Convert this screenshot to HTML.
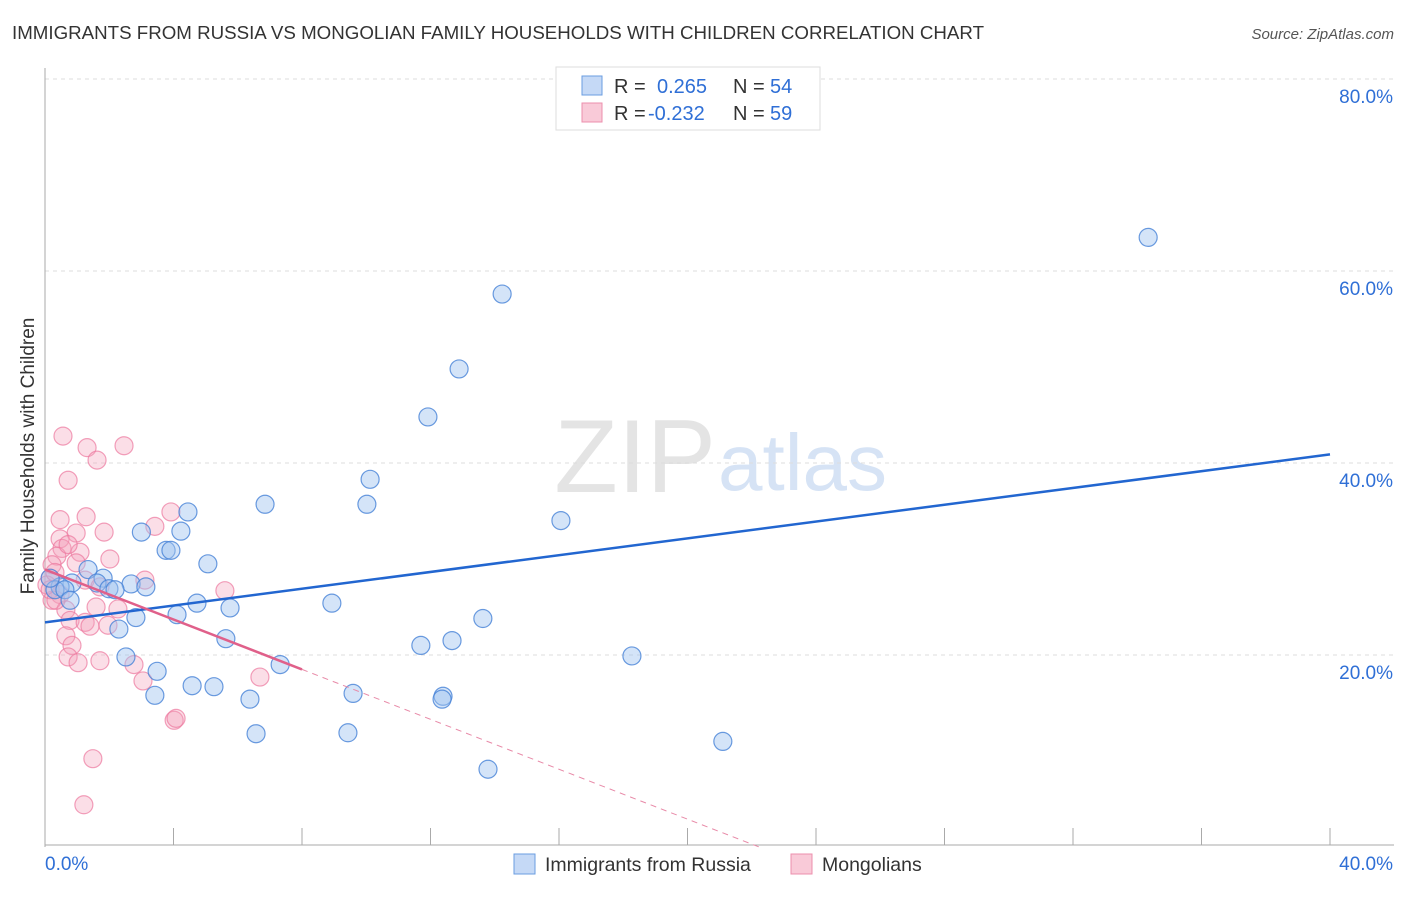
<!DOCTYPE html>
<html><head><meta charset="utf-8"><style>
body{margin:0;background:#fff;font-family:"Liberation Sans",sans-serif}
svg text{font-family:"Liberation Sans",sans-serif}
</style></head><body>
<svg id="chart" width="1406" height="892">
<text x="12" y="39" font-size="18" fill="#333" textLength="972" lengthAdjust="spacingAndGlyphs">IMMIGRANTS FROM RUSSIA VS MONGOLIAN FAMILY HOUSEHOLDS WITH CHILDREN CORRELATION CHART</text>
<text x="1394" y="39" font-size="15" fill="#555" font-style="italic" text-anchor="end">Source: ZipAtlas.com</text>
<text x="716" y="492" font-size="104" fill="#e4e4e4" font-family="Liberation Serif" text-anchor="end">ZIP</text>
<text x="718" y="490" font-size="80" fill="#d6e3f5">atlas</text>
<g id="grid"></g>
<g id="axes"></g>
<g id="marks"></g>
<text transform="translate(34,456) rotate(-90)" font-size="19" fill="#333" text-anchor="middle">Family Households with Children</text>
<g>
<rect x="556" y="67" width="264" height="63" fill="#fff" stroke="#ddd"/>
<rect x="582" y="76" width="20" height="19" fill="#c5d9f6" stroke="#6a9de0"/>
<rect x="582" y="103" width="20" height="19" fill="#f9cad8" stroke="#ec8fad"/>
<text x="614" y="93" font-size="20" fill="#333">R =</text><text x="657" y="93" font-size="20" fill="#2f6fd6">0.265</text>
<text x="733" y="93" font-size="20" fill="#333">N =</text><text x="770" y="93" font-size="20" fill="#2f6fd6">54</text>
<text x="614" y="120" font-size="20" fill="#333">R =</text><text x="648" y="120" font-size="20" fill="#2f6fd6">-0.232</text>
<text x="733" y="120" font-size="20" fill="#333">N =</text><text x="770" y="120" font-size="20" fill="#2f6fd6">59</text>
</g>
<g>
<rect x="514" y="854" width="21" height="20" fill="#c5d9f6" stroke="#6a9de0"/>
<text x="545" y="871" font-size="19.5" fill="#333">Immigrants from Russia</text>
<rect x="791" y="854" width="21" height="20" fill="#f9cad8" stroke="#ec8fad"/>
<text x="822" y="871" font-size="19.5" fill="#333">Mongolians</text>
</g>
</svg>
<script>
const yTicks=[20,40,60,80];
const yTickLabels=["20.0%","40.0%","60.0%","80.0%"];
const xTicks=[0,4,8,12,16,20,24,28,32,36,40];
const russiaX=[34.34,14.23,12.89,11.92,10.12,10.02,6.85,16.06,4.45,3.0,4.23,3.77,3.92,5.07,2.68,3.14,1.81,1.34,1.62,1.99,2.18,0.84,0.47,0.31,0.62,0.78,0.16,2.83,4.11,4.73,5.76,8.93,2.30,5.63,13.63,12.67,11.70,18.27,2.52,3.49,7.32,3.42,4.58,5.26,6.38,9.59,12.39,12.36,6.57,9.43,21.1,13.79];
const russiaY=[63.5,57.6,49.8,44.8,38.3,35.7,35.7,34.0,34.9,32.8,32.9,30.9,30.9,29.5,27.4,27.1,28.0,28.9,27.5,26.9,26.8,27.5,27.1,26.8,26.8,25.7,28.0,23.9,24.2,25.4,24.9,25.4,22.7,21.7,23.8,21.5,21.0,19.9,19.8,18.3,19.0,15.8,16.8,16.7,15.4,16.0,15.7,15.4,11.8,11.9,11.0,8.1];
const mongolX=[0.56,1.31,2.46,1.62,0.72,0.47,1.28,1.84,0.97,3.42,3.92,0.47,0.53,1.09,0.37,0.72,2.02,0.97,0.22,3.11,5.60,0.16,0.06,0.31,1.25,1.71,0.47,0.22,0.65,1.59,2.27,0.78,1.25,1.40,1.96,0.65,0.84,0.72,1.71,1.03,2.77,3.05,6.69,4.02,4.08,1.49,1.21,0.16,0.34];
const mongolY=[42.8,41.6,41.8,40.3,38.2,34.1,34.4,32.8,32.7,33.4,34.9,32.1,31.1,30.7,30.3,31.5,30.0,29.6,29.4,27.8,26.7,28.0,27.3,28.6,27.8,27.1,26.3,25.7,24.7,25.0,24.8,23.6,23.4,23.0,23.1,22.0,21.0,19.8,19.4,19.2,19.0,17.3,17.7,13.2,13.4,9.2,4.4,26.8,25.7];
const russiaTrend=[23.4,40.9];
const mongolTrend=[28.9,-1.3];
const mongolSolidEnd=8.0;

const NS="http://www.w3.org/2000/svg";
const X=v=>45+v/40*1285;
const Y=v=>847-v/80*768;
function mk(tag,attrs,parent){const e=document.createElementNS(NS,tag);for(const k in attrs)e.setAttribute(k,attrs[k]);document.getElementById(parent).appendChild(e);return e;}

yTicks.forEach((t,i)=>{
 const g=mk('line',{x1:45,x2:1394,y1:Y(t),y2:Y(t),stroke:'#ddd','stroke-dasharray':'4,4'},'grid');
 
 
 const l=mk('text',{x:1393,y:Y(t)+24,'font-size':19,fill:'#2f6fd6','text-anchor':'end'},'grid');
 l.textContent=yTickLabels[i];
 
 
});
const ya=mk('line',{x1:45,x2:45,y1:68,y2:847,stroke:'#aaa'},'axes');


const xa=mk('line',{x1:45,x2:1394,y1:845,y2:845,stroke:'#aaa'},'axes');


xTicks.forEach(t=>{
 const k=mk('line',{x1:X(t),x2:X(t),y1:828,y2:845,stroke:'#aaa'},'axes');
 
 
});
const xl0=mk('text',{x:45,y:870,'font-size':19,fill:'#2f6fd6'},'axes');xl0.textContent='0.0%';


const xl1=mk('text',{x:1393,y:870,'font-size':19,fill:'#2f6fd6','text-anchor':'end'},'axes');xl1.textContent='40.0%';



mongolX.forEach((v,i)=>{
 const c=mk('circle',{cx:X(v),cy:Y(mongolY[i]),r:9,fill:'rgba(244,160,186,0.35)',stroke:'rgba(236,120,158,0.7)','stroke-width':1.2},'marks');
 
 
});
russiaX.forEach((v,i)=>{
 const c=mk('circle',{cx:X(v),cy:Y(russiaY[i]),r:9,fill:'rgba(160,196,240,0.45)',stroke:'rgba(70,130,215,0.8)','stroke-width':1.2},'marks');
 
 
});
const rt=mk('line',{x1:X(0),y1:Y(russiaTrend[0]),x2:X(40),y2:Y(russiaTrend[1]),stroke:'#2266d0','stroke-width':2.5},'marks');


const xz=-mongolTrend[0]/mongolTrend[1];
const mt=mk('line',{x1:X(0),y1:Y(mongolTrend[0]),x2:X(mongolSolidEnd),y2:Y(mongolTrend[0]+mongolTrend[1]*mongolSolidEnd),stroke:'#e0608a','stroke-width':2.5},'marks');


const md=mk('line',{x1:X(mongolSolidEnd),y1:Y(mongolTrend[0]+mongolTrend[1]*mongolSolidEnd),x2:X(xz),y2:Y(0),stroke:'#e88aa8','stroke-width':1,'stroke-dasharray':'6,5'},'marks');


</script>
</body></html>
